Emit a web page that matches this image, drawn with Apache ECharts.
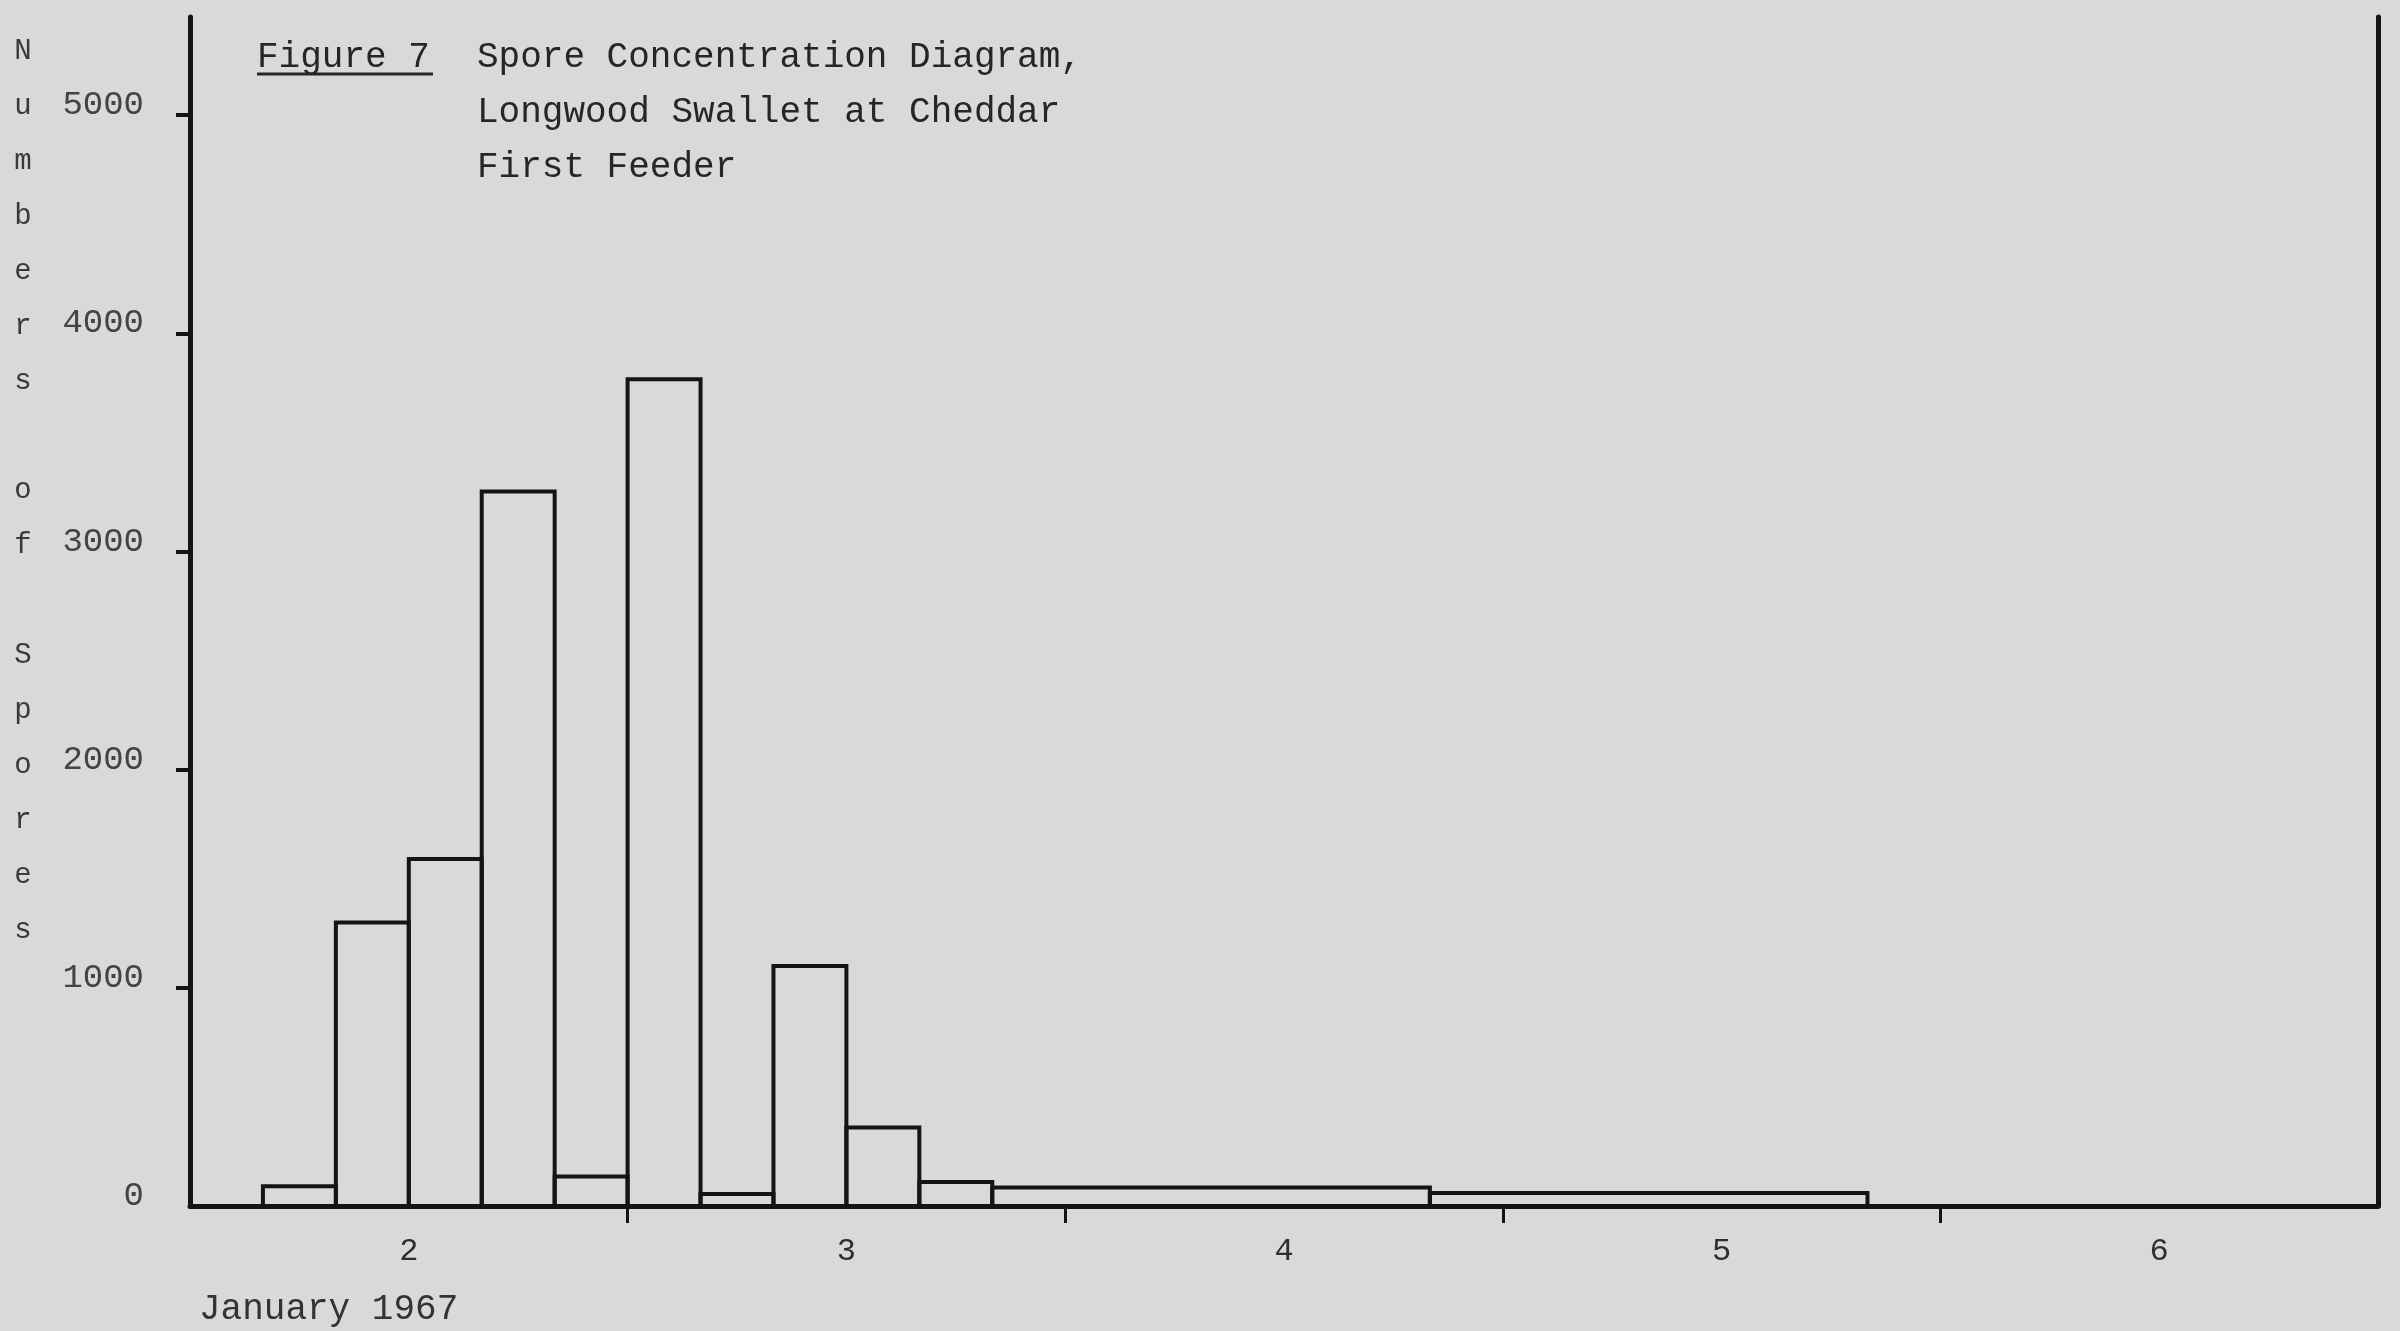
<!DOCTYPE html>
<html>
<head>
<meta charset="utf-8">
<script src="https://cdn.jsdelivr.net/npm/echarts@6/dist/echarts.min.js"></script>
<style>
  html, body { margin: 0; padding: 0; background: #d9d9d7; }
  #chart { width: 2400px; height: 1331px; }
</style>
</head>
<body>
<div id="chart"></div>
<script>
// ---- data (hours since 00:00, 2 January 1967) ----
const binStartHours = [4, 8, 12, 16, 20, 24, 28, 32, 36, 40, 44, 68];
const binEndHours   = [8, 12, 16, 20, 24, 28, 32, 36, 40, 44, 68, 92];
const sporeCounts   = [90, 1300, 1590, 3275, 135, 3790, 55, 1100, 360, 110, 85, 60];

const yLabelValues = [0, 1000, 2000, 3000, 4000, 5000];
const yTickValues  = [1000, 2000, 3000, 4000, 5000];
const dayBoundaryHours = [24, 48, 72, 96];
const dayLabelHours = [12, 36, 60, 84, 108];
const dayLabels = ['2', '3', '4', '5', '6'];

const titleLines = ['Spore Concentration Diagram,', 'Longwood Swallet at Cheddar', 'First Feeder'];
const figureLabel = 'Figure 7';
const yAxisTitle = 'Numbers of Spores';
const xAxisTitle = 'January 1967';

const FONT = '"Liberation Mono", "DejaVu Sans Mono", monospace';
const INK = '#141414';

const chart = echarts.init(document.getElementById('chart'), null, { renderer: 'canvas' });

const barData = binStartHours.map((s, i) => [s, binEndHours[i], sporeCounts[i]]);

chart.setOption({
  backgroundColor: '#d9d9d7',
  animation: false,
  title: [
    {
      text: titleLines.join('\n'),
      left: 477, top: 30, padding: 0,
      textStyle: { fontFamily: FONT, fontSize: 36, fontWeight: 'normal', color: '#262626', lineHeight: 55 }
    },
    {
      text: figureLabel,
      left: 257, top: 30, padding: 0,
      textStyle: { fontFamily: FONT, fontSize: 36, fontWeight: 'normal', color: '#262626', lineHeight: 55 }
    }
  ],
  grid: { left: 190, right: 22, top: 17, bottom: 125, containLabel: false, outerBoundsMode: 'none' },
  xAxis: {
    type: 'value', min: 0, max: 120,
    axisLine: { show: true, onZero: false, lineStyle: { color: INK, width: 5 } },
    axisTick: { show: true, customValues: dayBoundaryHours, length: 17, lineStyle: { color: INK, width: 3 } },
    axisLabel: {
      show: true, customValues: dayLabelHours, margin: 30,
      formatter: v => dayLabels[dayLabelHours.indexOf(v)],
      fontFamily: FONT, fontSize: 32, color: '#2e2e2e'
    },
    splitLine: { show: false }
  },
  yAxis: [
    {
      type: 'value', min: 0, max: 5450, position: 'left',
      axisLine: { show: true, lineStyle: { color: INK, width: 5 } },
      axisTick: { show: true, customValues: yTickValues, length: 14, lineStyle: { color: INK, width: 4 } },
      axisLabel: {
        show: true, customValues: yLabelValues, margin: 46,
        formatter: v => String(v),
        fontFamily: FONT, fontSize: 34, color: '#444',
        verticalAlign: 'bottom', lineHeight: 20
      },
      splitLine: { show: false }
    },
    {
      type: 'value', min: 0, max: 5450, position: 'right',
      axisLine: { show: true, onZero: false, lineStyle: { color: INK, width: 5 } },
      axisTick: { show: false },
      axisLabel: { show: false },
      splitLine: { show: false }
    }
  ],
  series: [
    {
      type: 'custom',
      name: 'Spore count',
      data: barData,
      encode: { x: [0, 1], y: 2 },
      clip: false,
      renderItem: function (params, api) {
        const start = api.value(0), end = api.value(1), v = api.value(2);
        const p0 = api.coord([start, v]);
        const p1 = api.coord([end, 0]);
        return {
          type: 'rect',
          shape: { x: p0[0], y: p0[1], width: p1[0] - p0[0], height: p1[1] - p0[1] },
          style: { fill: 'rgba(0,0,0,0)', stroke: INK, lineWidth: 4 }
        };
      }
    }
  ],
  graphic: [
    {
      type: 'line',
      shape: { x1: 257, y1: 74, x2: 433, y2: 74 },
      style: { stroke: '#262626', lineWidth: 3 }
    },
    {
      type: 'text',
      x: 23, y: 24,
      style: {
        text: yAxisTitle.split('').map(c => c === ' ' ? '' : c).join('\n'),
        font: '29px ' + FONT,
        fill: '#3a3a3a',
        align: 'center', verticalAlign: 'top',
        lineHeight: 54.9
      }
    },
    {
      type: 'text',
      x: 199, y: 1309,
      style: {
        text: xAxisTitle,
        font: '36px ' + FONT,
        fill: '#333',
        align: 'left', verticalAlign: 'middle'
      }
    }
  ]
});
</script>
</body>
</html>
